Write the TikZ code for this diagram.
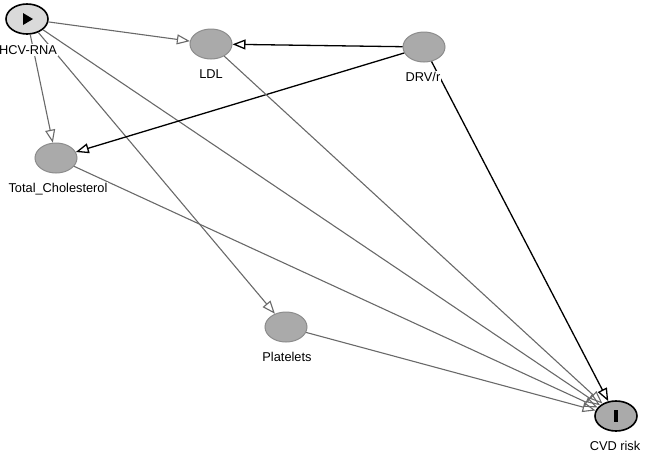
\documentclass[tikz,border=0pt]{standalone}
\usepackage{fontspec}
\setmainfont{Liberation Sans}
\usetikzlibrary{
  shapes.geometric,
  arrows.meta,
  positioning
}
\definecolor{nodegray}{RGB}{170, 170, 170}
\definecolor{rimgray}{RGB}{140, 140, 140}
\definecolor{paleg}{RGB}{218, 218, 218}
\definecolor{edgegray}{RGB}{105, 105, 105}

\begin{document}
\begin{tikzpicture}[
  x=1pt, y=-1pt,
  var/.style={ellipse, draw=rimgray, fill=nodegray, line width=1pt, minimum width=42pt, minimum height=30pt, inner sep=0pt},
  endvar/.style={var, draw=black, line width=1.6pt, fill=#1},
  lbl/.style={font=\fontsize{12.8}{14}\selectfont, text=black, fill=white, inner sep=1pt},
  arrow/.style={-{Triangle[open, length=13pt, width=10pt]}, color=edgegray, line width=1.1pt},
  strong/.style={arrow, color=black, line width=1.3pt}
]
\useasboundingbox (0,0) rectangle (646,453);

% Variables of the graph
\node[endvar=paleg] (hcv) at (27,19) {};
\node[var] (ldl) at (211,44) {};
\node[var] (drv) at (424,47) {};
\node[var] (chol) at (56,158) {};
\node[var] (plt) at (286,327) {};
\node[endvar=nodegray] (cvd) at (616,416) {};

% Exposure and outcome marks
\fill ([shift={(-4,-6)}]hcv.center) -- ++(10,6) -- ++(-10,6) -- cycle;
\fill ([shift={(-2,-6)}]cvd.center) rectangle ++(4,12);

% Paths out of HCV-RNA
\draw[arrow] (hcv) -- (ldl);
\draw[arrow] (hcv) -- (chol);
\draw[arrow] (hcv) -- (plt);
\draw[arrow] (hcv) -- (cvd);

% Paths out of DRV/r
\draw[strong] (drv) -- (ldl);
\draw[strong] (drv) -- (chol);
\draw[strong] (drv) -- (cvd);

% Mediators into CVD risk
\draw[arrow] (ldl) -- (cvd);
\draw[arrow] (chol) -- (cvd);
\draw[arrow] (plt) -- (cvd);

% Labels below the variables, over the edges
\node[lbl] (hcvl) at (28,50) {HCV-RNA};
\node[lbl] (ldll) at (211,74) {LDL};
\node[lbl] (drvl) at (423,77) {DRV/r};
\node[lbl] (choll) at (58,189) {Total\_Cholesterol};
\node[lbl] (pltl) at (287,357) {Platelets};
\node[lbl] (cvdl) at (615,446) {CVD risk};

\end{tikzpicture}
\end{document}
